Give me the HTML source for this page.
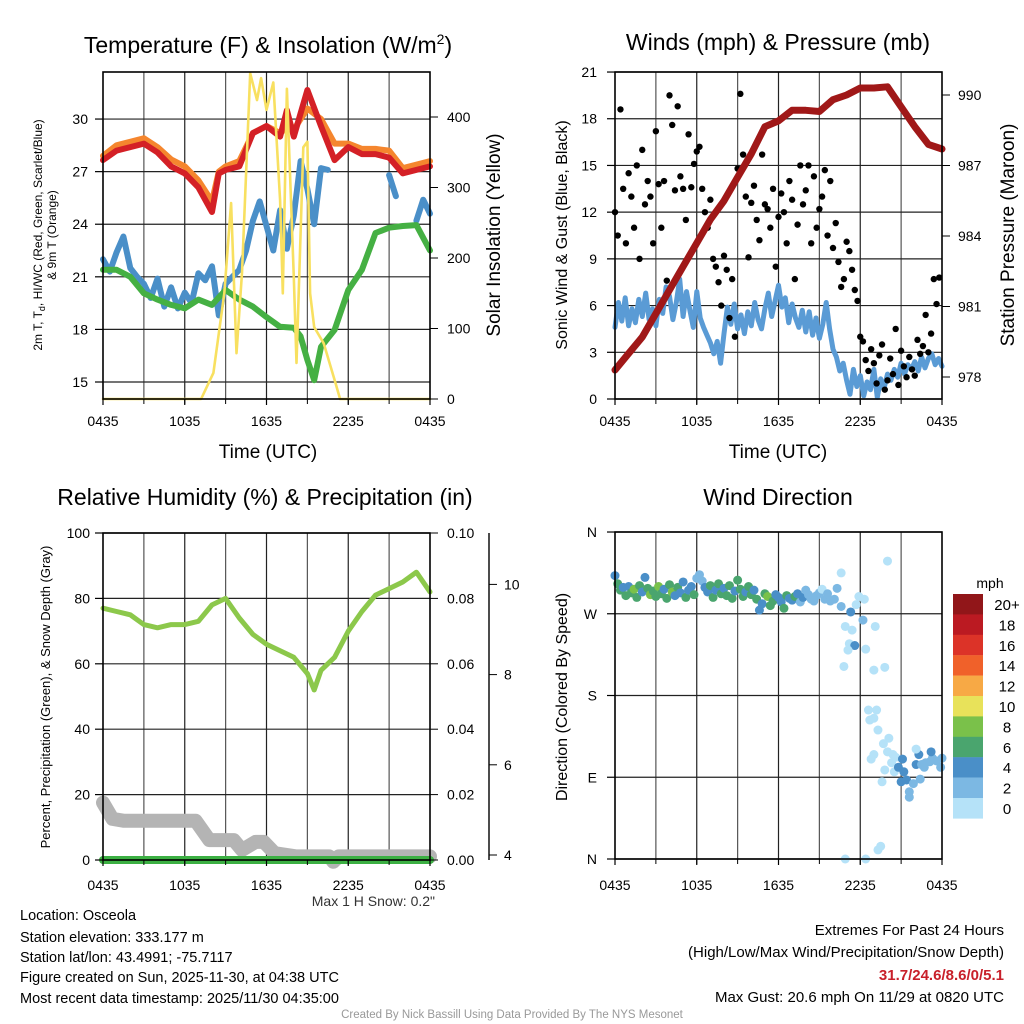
<!DOCTYPE html>
<html><head><meta charset="utf-8"><style>
html,body{margin:0;padding:0;background:#fff}
svg{display:block;font-family:"Liberation Sans",sans-serif}
</style></head><body>
<svg id="c" width="1024" height="1024" viewBox="0 0 1024 1024">
<g id="grid"></g><g id="marks"></g><g id="axes"></g>
<g id="texts" fill="#000">
<text x="268" y="53" font-size="23" text-anchor="middle">Temperature (F) &amp; Insolation (W/m<tspan font-size="14" dy="-9">2</tspan><tspan dy="9">)</tspan></text>
<text x="778" y="50" font-size="23" text-anchor="middle">Winds (mph) &amp; Pressure (mb)</text>
<text x="265" y="505" font-size="23" text-anchor="middle">Relative Humidity (%) &amp; Precipitation (in)</text>
<text x="778" y="505" font-size="23" text-anchor="middle">Wind Direction</text>
<text transform="translate(42,235) rotate(-90)" font-size="12" text-anchor="middle">2m T, T<tspan font-size="9" dy="3">d</tspan><tspan dy="-3">, HI/WC (Red, Green, Scarlet/Blue)</tspan></text>
<text transform="translate(56,235) rotate(-90)" font-size="12" text-anchor="middle">&amp; 9m T (Orange)</text>
<text transform="translate(500,235) rotate(-90)" font-size="19" text-anchor="middle">Solar Insolation (Yellow)</text>
<text transform="translate(567,235) rotate(-90)" font-size="16" text-anchor="middle">Sonic Wind &amp; Gust (Blue, Black)</text>
<text transform="translate(1014,235) rotate(-90)" font-size="19" text-anchor="middle">Station Pressure (Maroon)</text>
<text transform="translate(50,697) rotate(-90)" font-size="13" text-anchor="middle">Percent, Precipitation (Green), &amp; Snow Depth (Gray)</text>
<text transform="translate(567,697) rotate(-90)" font-size="16" text-anchor="middle">Direction (Colored By Speed)</text>
<text x="268" y="458" font-size="19" text-anchor="middle">Time (UTC)</text>
<text x="778" y="458" font-size="19" text-anchor="middle">Time (UTC)</text>
<text x="435" y="906" font-size="14" text-anchor="end" fill="#333">Max 1 H Snow: 0.2"</text>
<g font-size="14.5">
<text x="20" y="920">Location: Osceola</text>
<text x="20" y="942">Station elevation: 333.177 m</text>
<text x="20" y="962">Station lat/lon: 43.4991; -75.7117</text>
<text x="20" y="982">Figure created on Sun, 2025-11-30, at 04:38 UTC</text>
<text x="20" y="1003">Most recent data timestamp: 2025/11/30 04:35:00</text>
</g>
<g font-size="15" text-anchor="end">
<text x="1004" y="935">Extremes For Past 24 Hours</text>
<text x="1004" y="957">(High/Low/Max Wind/Precipitation/Snow Depth)</text>
<text x="1004" y="980" fill="#c8202a" font-weight="bold">31.7/24.6/8.6/0/5.1</text>
<text x="1004" y="1002">Max Gust: 20.6 mph On 11/29 at 0820 UTC</text>
</g>
<text x="512" y="1018" font-size="11.5" fill="#999" text-anchor="middle">Created By Nick Bassill Using Data Provided By The NYS Mesonet</text>
<text x="990" y="588" font-size="14" text-anchor="middle">mph</text>
</g>
<g id="cbar"></g>
</svg>
<script>
// ---- data ----
const hours = [0,1,2,3,4,5,6,7,8,8.5,9,10,11,12,13,13.5,14,15,16,17,18,19,20,21,22,23,24];
const tempRed = [27.66,28.2,28.4,28.6,28.1,27.3,26.9,26.1,24.7,26.9,27.1,27.3,29.2,29.6,29.0,30.5,29.0,31.66,29.6,27.66,28.4,28.0,28.0,27.8,26.9,27.1,27.3];
const temp9m = [27.9,28.5,28.7,28.9,28.4,27.7,27.3,26.5,25.3,27.0,27.3,27.6,29.2,29.6,29.2,29.5,29.4,30.6,30.0,28.6,28.6,28.3,28.3,28.2,27.2,27.4,27.6];
const dewHours = [0,1,2,3,4,5,6,7,8,9,10,11,12,13,14,14.5,15,15.5,16,17,18,19,20,21,22,23,24];
const dewGreen = [21.4,21.4,21.0,20.06,19.7,19.4,19.2,19.7,19.4,20.25,19.7,19.3,18.7,18.15,18.1,17.6,16.25,15.1,17.0,17.97,20.25,21.4,23.5,23.8,23.9,23.95,22.5];
const hiBlue = [22.0,21.3,22.4,23.3,21.5,21.0,20.6,19.8,20.9,19.3,20.4,19.2,20.1,19.5,21.2,20.8,21.6,18.8,20.6,21.0,21.4,22.5,24.2,25.3,23.9,22.5,24.8,22.6,24.5,27.6,26.0,24.0,27.2,27.1,null,null,null,null,null,null,null,null,26.8,25.6,null,null,24.2,25.4,24.6];
const solarTimes = [0,7.2,8.1,8.9,9.4,9.8,10.2,10.8,11.3,11.6,12.0,12.5,13.0,13.2,13.5,14.0,14.2,14.7,15.0,15.2,15.5,16.2,17.0,17.4,24];
const solarVals = [0,0,37,150,278,65,179,462,424,455,410,449,282,150,440,173,51,357,365,150,102,79,27,0,0];
const windBlue = [4.6,6.2,5,6.5,4.7,5.8,4.9,6.4,5.3,6.8,5.1,5.8,4.7,6.4,5.5,7.2,6.6,5.1,6.2,7.7,5.3,6.9,5.7,4.6,6.9,5.2,4.6,4.1,3.6,2.9,3.7,2.3,4.2,5.9,4.8,6.1,4.5,5.4,4.2,5.6,4.7,6.2,5.1,4.5,5.8,6.8,5.3,6.3,7.3,5.9,6.5,4.9,6.1,5.2,4.6,5.7,4.3,5.6,4.1,5.2,3.9,4.8,6.2,4.5,3.2,2.7,1.8,2.3,1.2,0.3,1.9,0.8,1.5,0.2,1.1,0.6,1.9,0.1,1.3,0.7,1.6,1.2,1.9,1.4,2.3,1.6,2.2,1.9,2.4,1.8,2.7,2.0,2.6,2.9,2.2,2.6,2.1];
const gusts = [12,10.5,18.6,13.5,10,14.5,13,11,15,9,16,12.5,14,13,10,17.2,13.8,11,14,7.6,19.5,17.6,13.4,18.8,14.3,13.5,11.5,17,13.6,15.1,15.9,16.2,13.5,12,11,12.8,9,8.5,7.5,6,9.2,8.3,5.2,7.7,4,14.8,19.6,15.7,13,9.1,12.6,13.7,11.5,10.2,15.7,12.5,12.2,11,13.5,8.5,11.7,13.2,12,10,14,12.8,7.7,11.2,15,12.5,13.4,15,10,14.3,11,12.2,13,14.7,10.5,14,9.7,11.3,8.8,7.2,7.7,10.1,9.5,8.3,7,6.3,4,3.7,2.5,1.8,3.2,2.3,1.0,2.8,3.5,0.6,1.2,2.6,1.6,4.5,0.9,3.1,2.1,1.4,2.7,1.9,1.5,3.8,2.9,3.4,5.4,3,4.2,7.7,6.1,7.8];
const pressHours = [0,1,2,3,4,5,6,7,8,9,10,11,12,13,14,15,16,17,18,19,20,21,22,23,24];
const pressure = [978.3,979.0,979.7,980.7,981.7,982.7,983.7,984.7,985.5,986.5,987.5,988.65,988.9,989.35,989.35,989.3,989.8,990.0,990.3,990.3,990.35,989.5,988.65,987.9,987.7];
const rhHours = [0,1,2,3,4,5,6,7,8,9,10,11,12,13,14,15,15.5,16,17,18,19,20,21,22,23,24];
const rh = [77,76,75,72,71,72,72,73,78,80,74,69,66,64,62,57,52,58,62,70,76,81,83,85,88,82];
const snowHours = [0,0.7,1.5,6.8,7.8,9.6,10.2,11.2,11.8,12.6,14.2,16.6,16.9,17.3,24];
const snowDepth = [5.16,4.8,4.76,4.76,4.33,4.33,4.11,4.29,4.29,4.04,3.97,3.97,3.85,3.97,3.97];
const precip = [0,0];
const dirEarly = [312,303,296,299,290,300,293,297,288,301,294,310,298,291,295,289,300,292,297,287,302,294,290,299,293,305,288,296,300,291,309,313,306,299,294,301,288,296,303,292,298,290,301,287,295,307,297,289,294,300,291,296,286,274,281,292,289,279,284,291,288,283,276,290,287,285,289,292,283,288,296,291,286,284,290,293,297,286,292,284];
const spdEarly = [4,6,6,4,6,4,6,8,6,6,4,4,6,8,6,6,8,6,4,6,6,8,4,6,4,4,6,4,4,6,2,2,2,4,4,6,6,4,6,6,4,6,6,6,4,6,6,6,4,6,6,4,6,4,4,6,8,6,6,4,4,4,6,6,4,4,6,4,2,4,2,2,2,2,2,2,1,2,2,2];
const dirLateTimes = [16.6,16.3,16.1,16.6,17.3,17.9,18.3,17.7,18.2,16.9,17.4,19.1,17.2,17.6,17.1,18.4,16.8,19.0,19.8,20.0,18.6,19.2,19.0,18.7,19.3,20.1,19.7,20.0,19.0,18.8,20.4,20.6,20.3,19.8,20.5,19.6,21.1,20.8,21.2,21.0,21.4,21.9,21.6,21.6,22.4,22.1,22.3,22.1,22.7,23.1,23.3,23.2,23.6,23.9,24.0,22.5,22.8,19.5,19.3,16.9,18.4];
const dirLate = [315,298,286,278,272,289,286,280,263,256,252,256,237,235,230,231,212,208,211,328,164,164,155,153,142,133,127,118,115,110,115,112,106,98,96,85,110,101,96,85,87,83,74,68,88,104,115,121,101,107,111,118,108,101,111,104,106,14,10,0,0];
const spdLate = [1,2,2,2,4,1,1,1,2,1,1,1,1,4,1,1,0,0,0,0,0,0,0,0,0,0,0,0,0,0,0,0,0,0,0,0,4,4,4,4,4,2,2,2,2,4,4,0,2,2,2,4,2,2,2,2,2,0,0,0,0];
const cbLabels = ["20+","18","16","14","12","10","8","6","4","2","0"];
const cbColors = ["#911619","#bb1a22","#dc3328","#f0612a","#f7a945","#e8e25a","#7ac14a","#4aa56e","#4a8fc8","#7cb8e3","#b5e2f8"];
const xTickLabels = ["0435","1035","1635","2235","0435"];
const xTickHours = [0,6,12,18,24];

// ---- helpers ----
const NS="http://www.w3.org/2000/svg";
const G={grid:document.getElementById('grid'),marks:document.getElementById('marks'),axes:document.getElementById('axes'),cbar:document.getElementById('cbar')};
function mk(tag,attrs,parent){const e=document.createElementNS(NS,tag);for(const k in attrs)e.setAttribute(k,attrs[k]);parent.appendChild(e);return e;}
const P=[{x0:103,x1:430,y0:72,y1:399,lo:27},{x0:615,x1:942,y0:72,y1:399,lo:27},{x0:103,x1:430,y0:533,y1:860,lo:30},{x0:615,x1:942,y0:532,y1:859,lo:31}];
function xs(p,t){return p.x0+t/24*(p.x1-p.x0);}
const yTemp=v=>382-(v-15)*17.53, ySolar=v=>399-v*0.705, yWind=v=>399-v*15.57, yPress=v=>377-(v-978)*23.5;
const yRH=v=>860-v*3.27, yPrec=v=>860-v*3270, ySnow=v=>855-(v-4)*45.1, yDir=v=>859-v*0.9083;

function pathD(p,ts,vs,yf){let d='',pen=false;for(let i=0;i<ts.length;i++){if(vs[i]===null){pen=false;continue;}d+=(pen?'L':'M')+xs(p,ts[i]).toFixed(1)+' '+yf(vs[i]).toFixed(1);pen=true;}return d;}
function line(p,ts,vs,yf,color,w,name){const e=mk('path',{d:pathD(p,ts,vs,yf),fill:'none',stroke:color,'stroke-width':w,'stroke-linejoin':'round','stroke-linecap':'round'},G.marks);

return e;}
function txt(x,y,s,anchor,size,parent){const e=mk('text',{x:x,y:y,'text-anchor':anchor,'font-size':size},parent||G.axes);e.textContent=s;return e;}

// ---- grids & axes ----
P.forEach((p,i)=>{
  for(let h=3;h<24;h+=3){const l=mk('line',{x1:xs(p,h),x2:xs(p,h),y1:p.y0,y2:p.y1,stroke:h%6?'#555':'#222','stroke-width':1.2},G.grid);
    
    
    mk('line',{x1:xs(p,h),x2:xs(p,h),y1:p.y1,y2:p.y1+5,stroke:'#000','stroke-width':1},G.axes);}
  const r=mk('rect',{x:p.x0,y:p.y0,width:p.x1-p.x0,height:p.y1-p.y0,fill:'none',stroke:'#000','stroke-width':1.6},G.axes);
  
  
  xTickHours.forEach((h,k)=>{mk('line',{x1:xs(p,h),x2:xs(p,h),y1:p.y1,y2:p.y1+6,stroke:'#000','stroke-width':1.2},G.axes);
    const t=txt(xs(p,h),p.y1+p.lo,xTickLabels[k],'middle',14);
    
    });
});
function hgrid(p,vals,yf){vals.forEach(v=>{const y=yf(v);
  const l=mk('line',{x1:p.x0,x2:p.x1,y1:y,y2:y,stroke:'#222','stroke-width':1.2},G.grid);
  
  
  mk('line',{x1:p.x0,x2:p.x0-8,y1:y,y2:y,stroke:'#000','stroke-width':1.2},G.axes);});}
function yLabels(vals,yf,labels,lx,anchor){vals.forEach((v,k)=>{const t=txt(lx,yf(v)+5,labels[k],anchor,14);
  
  });}
// panel 1
const tT=[15,18,21,24,27,30];hgrid(P[0],tT,yTemp);yLabels(tT,yTemp,tT.map(String),88,'end');
const sT=[0,100,200,300,400];sT.forEach(v=>mk('line',{x1:430,x2:438,y1:ySolar(v),y2:ySolar(v),stroke:'#000'},G.axes));yLabels(sT,ySolar,sT.map(String),447,'start');
// panel 2
const wT=[0,3,6,9,12,15,18,21];hgrid(P[1],wT,yWind);yLabels(wT,yWind,wT.map(String),597,'end');
const pT=[978,981,984,987,990];pT.forEach(v=>mk('line',{x1:942,x2:950,y1:yPress(v),y2:yPress(v),stroke:'#000'},G.axes));yLabels(pT,yPress,pT.map(String),958,'start');
// panel 3
const rT=[0,20,40,60,80,100];hgrid(P[2],rT,yRH);yLabels(rT,yRH,rT.map(String),90,'end');
const prT=[0,0.02,0.04,0.06,0.08,0.1];prT.forEach(v=>mk('line',{x1:430,x2:438,y1:yPrec(v),y2:yPrec(v),stroke:'#000'},G.axes));yLabels(prT,yPrec,prT.map(v=>v.toFixed(2)),447,'start');
mk('line',{x1:489,x2:489,y1:533,y2:860,stroke:'#000','stroke-width':1.4},G.axes);
const snT=[4,6,8,10];snT.forEach(v=>mk('line',{x1:489,x2:497,y1:ySnow(v),y2:ySnow(v),stroke:'#000'},G.axes));yLabels(snT,ySnow,snT.map(String),504,'start');
// panel 4
const dT=[0,90,180,270,360];hgrid(P[3],dT,yDir);yLabels(dT,yDir,["N","E","S","W","N"],597,'end');

// ---- marks ----
line(P[0],hours,temp9m,yTemp,'#f5862e',6,'temp-9m-line');
line(P[0],hours,tempRed,yTemp,'#d42026',6,'temp-2m-line');
const hiT=hiBlue.map((v,i)=>i*0.5);
line(P[0],hiT,hiBlue,yTemp,'#4a8fc8',6,'heat-index-windchill-line');
line(P[0],dewHours,dewGreen,yTemp,'#45b043',6,'dewpoint-line');
line(P[0],solarTimes,solarVals,ySolar,'#f8e060',2.6,'solar-insolation-line');
line(P[1],windBlue.map((v,i)=>i*0.25),windBlue,yWind,'#5a9bd5',5,'sonic-wind-line');
gusts.forEach((g,i)=>{const c=mk('circle',{cx:xs(P[1],i*0.2),cy:yWind(g),r:3.2,fill:'#000'},G.marks);
  
  });
line(P[1],pressHours,pressure,yPress,'#a01818',7,'pressure-line');
line(P[2],rhHours,rh,yRH,'#8cc84b',5,'relative-humidity-line');
line(P[2],snowHours,snowDepth,ySnow,'#b4b4b4',14,'snow-depth-line');
line(P[2],[0,24],precip,yPrec,'#3cb043',8,'precipitation-line');
function colorFor(s){const idx=Math.min(10,Math.max(0,10-Math.floor(s/2)));return cbColors[idx];}
dirEarly.forEach((d,i)=>{const c=mk('circle',{cx:xs(P[3],i*0.2),cy:yDir(d),r:4.5,fill:colorFor(spdEarly[i])},G.marks);
  
  });
dirLate.forEach((d,i)=>{const c=mk('circle',{cx:xs(P[3],dirLateTimes[i]),cy:yDir(d),r:4.5,fill:colorFor(spdLate[i])},G.marks);
  
  });
cbColors.forEach((col,i)=>{const r=mk('rect',{x:953,y:594+i*20.4,width:30,height:20.6,fill:col},G.cbar);
  
  
  const t=txt(1007,594+i*20.4+16,cbLabels[i],'middle',15,G.cbar);
  
  });
</script>
</body></html>
